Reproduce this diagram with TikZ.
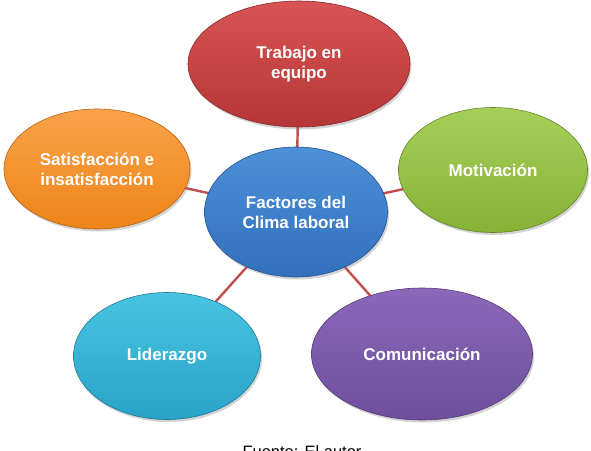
\documentclass[tikz,border=0pt]{standalone}
\usepackage{fontspec}
\setmainfont{Liberation Sans}
\usetikzlibrary{shapes.geometric,shadows,backgrounds}

\definecolor{redtop}{HTML}{D85454}
\definecolor{redbot}{HTML}{B53636}
\definecolor{orangetop}{HTML}{FAA24A}
\definecolor{orangebot}{HTML}{EE8418}
\definecolor{bluetop}{HTML}{4C90D8}
\definecolor{bluebot}{HTML}{3270BC}
\definecolor{greentop}{HTML}{A6CF58}
\definecolor{greenbot}{HTML}{86B236}
\definecolor{cyantop}{HTML}{48C4E2}
\definecolor{cyanbot}{HTML}{28A2C6}
\definecolor{purpletop}{HTML}{8C68BA}
\definecolor{purplebot}{HTML}{6E4E9C}
\definecolor{spokered}{HTML}{C0504D}

\begin{document}
\begin{tikzpicture}[x=1pt, y=-1pt,
  factor node/.style={ellipse, inner sep=0pt, align=center, text=white,
    font=\fontsize{17}{20}\selectfont\bfseries,
    top color=#1top, bottom color=#1bot, draw=#1bot!75!black, line width=0.6pt,
    drop shadow={shadow xshift=1.5pt, shadow yshift=-2.5pt, opacity=0.35}},
  spoke edge/.style={draw=spokered, line width=2.4pt}
]
\useasboundingbox (0,0) rectangle (591,450);
\clip (0,0) rectangle (591,450);
\node[factor node=red, minimum width=222pt, minimum height=126pt] (trabajo) at (299,64) {Trabajo en\\equipo};
\node[factor node=orange, minimum width=186pt, minimum height=120pt] (satisf) at (97,169) {Satisfacción e\\insatisfacción};
\node[factor node=green, minimum width=189pt, minimum height=125pt] (motiv) at (493,170) {Motivación};
\node[factor node=cyan, minimum width=187pt, minimum height=127pt] (lider) at (167,356) {Liderazgo};
\node[factor node=purple, minimum width=221pt, minimum height=132pt] (comun) at (422,354) {Comunicación};
\node[factor node=blue, minimum width=183pt, minimum height=130pt] (clima) at (296,212) {Factores del\\Clima laboral};
\node[anchor=base, font=\fontsize{16.5}{19}\selectfont] (fuente) at (302,457) {Fuente: El autor};
\begin{scope}[on background layer]
\draw[spoke edge] (clima.center) -- (trabajo.center);
\draw[spoke edge] (clima.center) -- (satisf.center);
\draw[spoke edge] (clima.center) -- (motiv.center);
\draw[spoke edge] (clima.center) -- (lider.center);
\draw[spoke edge] (clima.center) -- (comun.center);
\end{scope}
\end{tikzpicture}
\end{document}
